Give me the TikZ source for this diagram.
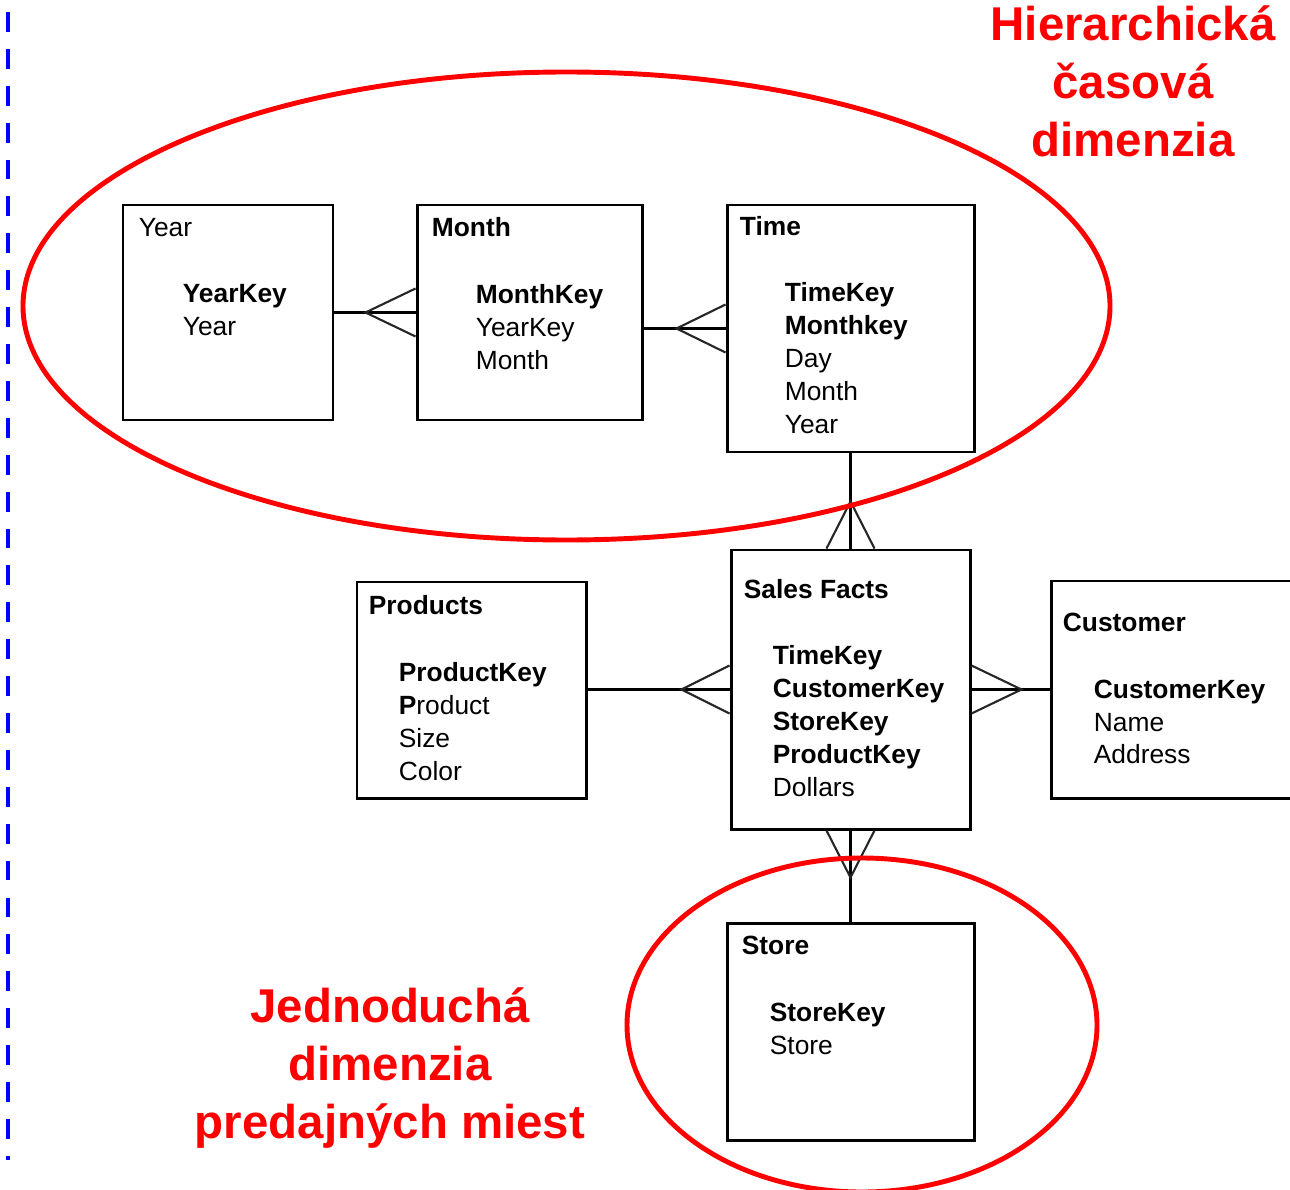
\documentclass[tikz,border=0pt]{standalone}
\usepackage{fontspec}
\setmainfont{Liberation Sans}
\usetikzlibrary{calc, fit, positioning}

\begin{document}
\begin{tikzpicture}[
    x=0.02cm, y=-0.02cm,
    every node/.style={font=\fontsize{15}{18.7}\selectfont},
    tbl/.style={draw, line width=1.7pt, inner sep=0pt},
    ttl/.style={anchor=base west, inner sep=0pt},
    fields/.style={anchor=north west, inner sep=0pt, align=left},
    link/.style={line width=1.7pt},
    foot/.style={line width=1.2pt, black!85},
    ring/.style={red, line width=2.8pt},
    note/.style={text=red, font=\fontsize{27}{33}\selectfont\bfseries, align=center},
]
\useasboundingbox (0,0) rectangle (1290,1189);

\draw[blue, line width=2.8pt, dash pattern=on 11.3pt off 9.7pt] (8,12) -- (8,1160);

\node[tbl, fit={(123,205) (333,420)}] (year) {};
\node[tbl, fit={(417,205) (642,420)}] (month) {};
\node[tbl, fit={(727,205) (974,452)}] (time) {};
\node[tbl, fit={(731,550) (970,829)}] (sales) {};
\node[tbl, fit={(357,582) (586,798)}] (products) {};
\node[tbl, fit={(1051,581) (1300,798)}] (customer) {};
\node[tbl, fit={(727,923) (974,1140)}] (store) {};

\node[ttl] (yeart) at ([shift={(17,33)}]year.north west) {Year};
\node[fields] (yearf) at ([shift={(61,81)}]year.north west) {\textbf{YearKey}\\Year};
\node[ttl] (montht) at ([shift={(16,33)}]month.north west) {\textbf{Month}};
\node[fields] (monthf) at ([shift={(60,81)}]month.north west) {\textbf{MonthKey}\\YearKey\\Month};
\node[ttl] (timet) at ([shift={(14,32)}]time.north west) {\textbf{Time}};
\node[fields] (timef) at ([shift={(59,79)}]time.north west) {\textbf{TimeKey}\\\textbf{Monthkey}\\Day\\Month\\Year};
\node[ttl] (salest) at ([shift={(14,50)}]sales.north west) {\textbf{Sales Facts}};
\node[fields] (salesf) at ([shift={(43,97)}]sales.north west) {\textbf{TimeKey}\\\textbf{CustomerKey}\\\textbf{StoreKey}\\\textbf{ProductKey}\\Dollars};
\node[ttl] (productst) at ([shift={(13,34)}]products.north west) {\textbf{Products}};
\node[fields] (productsf) at ([shift={(43,82)}]products.north west) {\textbf{ProductKey}\\\textbf{P}roduct\\Size\\Color};
\node[ttl] (customert) at ([shift={(13,52)}]customer.north west) {\textbf{Customer}};
\node[fields] (customerf) at ([shift={(44,100)}]customer.north west) {\textbf{CustomerKey}\\Name\\Address};
\node[ttl] (storet) at ([shift={(16,33)}]store.north west) {\textbf{Store}};
\node[fields] (storef) at ([shift={(44,81)}]store.north west) {\textbf{StoreKey}\\Store};

\draw[link] (year) -- (month);
\draw[link] (month.east |- time.west) -- (time.west);
\draw[link] (time) -- (sales);
\draw[link] (products.east |- sales.west) -- (sales.west);
\draw[link] (sales) -- (customer);
\draw[link] (sales) -- (store);

\draw[foot] ($(month.west)+(0,-24)$) -- ($(month.west)+(-50,0)$) -- ($(month.west)+(0,24)$);
\draw[foot] ($(time.west)+(0,-24)$) -- ($(time.west)+(-49,0)$) -- ($(time.west)+(0,24)$);
\draw[foot] ($(sales.north)+(-24,0)$) -- ($(sales.north)+(0,-47)$) -- ($(sales.north)+(24,0)$);
\draw[foot] ($(sales.west)+(0,-24)$) -- ($(sales.west)+(-48,0)$) -- ($(sales.west)+(0,24)$);
\draw[foot] ($(sales.east)+(0,-24)$) -- ($(sales.east)+(50,0)$) -- ($(sales.east)+(0,24)$);
\draw[foot] ($(sales.south)+(-24,0)$) -- ($(sales.south)+(0,47)$) -- ($(sales.south)+(24,0)$);

\draw[ring] (566.5,306) ellipse [x radius=543.5, y radius=234];
\draw[ring] (862,1025) ellipse [x radius=235, y radius=167];

\node[note] (hier) at (1133,81) {Hierarchická\\časová\\dimenzia};
\node[note] (simple) at (390,1068) {Jednoduchá\\dimenzia\\predajných miest};
\end{tikzpicture}
\end{document}
